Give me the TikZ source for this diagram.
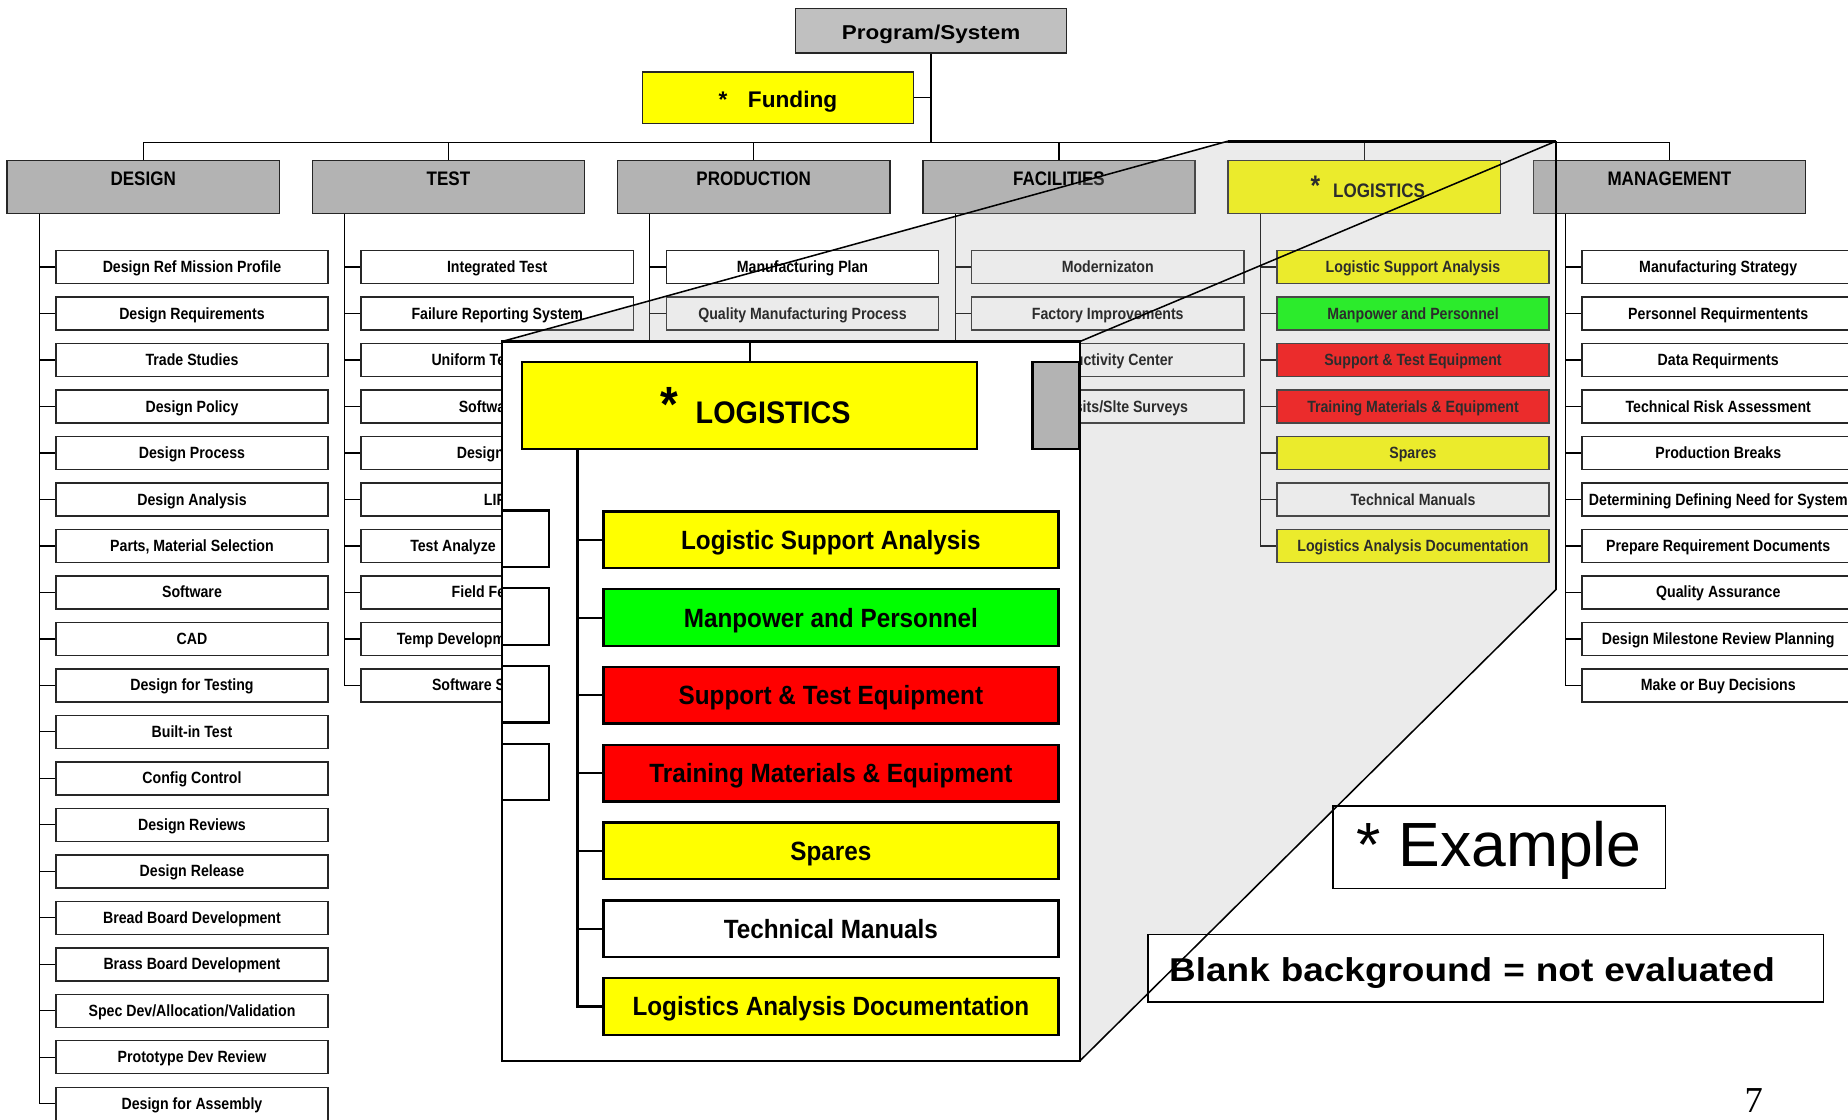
\documentclass[tikz,border=0pt]{standalone}
\usepackage{fontspec}
\setmainfont{Liberation Sans}
\newfontfamily\narrowsans{Liberation Sans}[FakeStretch=0.87]
\newfontfamily\midsans{Liberation Sans}[FakeStretch=0.92]
\newfontfamily\widesans{Liberation Sans}[FakeStretch=1.12]
\newfontfamily\pageserif{Liberation Serif}
\usepackage{tikz}
\usetikzlibrary{positioning}
\definecolor{hdgray}{HTML}{B3B3B3}
\definecolor{topgray}{HTML}{C0C0C0}
\definecolor{lsayellow}{HTML}{FFFF00}
\definecolor{lsagreen}{HTML}{00FF00}
\definecolor{lsared}{HTML}{FF0000}
\definecolor{veil}{HTML}{B0B0B0}
\tikzset{
  link/.style={draw=black,line width=1pt},
  zoomlink/.style={draw=black,line width=1.8pt},
  itembox/.style={draw=black!85,line width=1.2pt,fill=white,inner sep=0pt,
    minimum width=231pt,minimum height=28pt,text height=18.7pt,text depth=9.3pt,
    font=\narrowsans\bfseries\fontsize{13.8pt}{16pt}\selectfont},
  cutlabel/.style={inner sep=0pt,text height=18.7pt,text depth=9.3pt,
    font=\narrowsans\bfseries\fontsize{13.8pt}{16pt}\selectfont},
  headbox/.style={draw=black!85,line width=1.2pt,fill=hdgray,inner sep=0pt,
    minimum width=231pt,minimum height=45pt,text height=21.8pt,text depth=23.2pt,
    font=\narrowsans\bfseries\fontsize{16.6pt}{19pt}\selectfont},
  topbox/.style={draw=black!85,line width=1.2pt,fill=topgray,inner sep=0pt,
    minimum width=230pt,minimum height=38pt,text height=26.4pt,text depth=11.6pt,
    font=\widesans\bfseries\fontsize{17pt}{20pt}\selectfont},
  fundbox/.style={draw=black!85,line width=1.2pt,fill=lsayellow,inner sep=0pt,
    minimum width=230pt,minimum height=44pt,text height=30pt,text depth=14pt,
    font=\bfseries\fontsize{19.2pt}{22pt}\selectfont},
  zoomitem/.style={draw=black,line width=2pt,inner sep=0pt,
    minimum width=386pt,minimum height=48pt,text height=32pt,text depth=16pt,
    font=\midsans\bfseries\fontsize{22.4pt}{26pt}\selectfont},
  stub/.style={draw=black,line width=2pt,fill=white,inner sep=0pt,
    minimum width=40pt,minimum height=48pt},
  note/.style={draw=black,line width=1.3pt,fill=white,inner sep=0pt}
}
\begin{document}
\begin{tikzpicture}[x=1pt,y=-1pt]
  \useasboundingbox[fill=white] (0,0) rectangle (1568,950);
  % zoomed area and its callout frame (drawn later)
  \node[inner sep=0pt,minimum width=278pt,minimum height=380pt] (src) at (1181,310) {};
  \node[inner sep=0pt,minimum width=490pt,minimum height=610pt] (zoom) at (671,595) {};
  % top of the tree
  \node[topbox] (prog) at (790,26) {Program/System};
  \node[fundbox] (fund) at (660,83) {*\hspace{17.5pt}Funding};
  \coordinate (bus) at (790,121);
  \draw[link] (prog.south) -- (bus);
  \draw[link] (fund.east) -- (fund.east -| prog.south);
  \foreach \h/\t/\k in {design/DESIGN/0,test/TEST/1,prod/PRODUCTION/2,fac/FACILITIES/3,mgmt/MANAGEMENT/5} {
    \node[headbox] (\h) at ({121.5+259*\k},158.5) {\t};
    \draw[link] (bus) -| (\h.north);
  }
  \node[headbox,fill=lsayellow,text height=31.3pt,text depth=13.7pt] (logi) at (1157.5,158.5)
    {\hspace{6pt}\raisebox{1pt}{\fontsize{24pt}{24pt}\selectfont *}\hspace{11pt}LOGISTICS};
  \draw[link] (bus) -| (logi.north);
  % design
  \foreach \t [count=\i] in {Design Ref Mission Profile,Design Requirements,Trade Studies,
      Design Policy,Design Process,Design Analysis,{Parts, Material Selection},Software,CAD,
      Design for Testing,Built-in Test,Config Control,Design Reviews,Design Release,
      Bread Board Development,Brass Board Development,Spec Dev/Allocation/Validation,
      Prototype Dev Review,Design for Assembly} {
    \node[itembox] (des-\i) at ([xshift=157.5pt,yshift={-45pt-(\i-1)*39.44pt}]design.south west) {\t};
    \draw[link] ([xshift=28pt]design.south west) |- (des-\i.west);
  }
  % test
  \foreach \t [count=\i] in {Integrated Test,Failure Reporting System} {
    \node[itembox] (tst-\i) at ([xshift=157.5pt,yshift={-45pt-(\i-1)*39.44pt}]test.south west) {\t};
    \draw[link] ([xshift=28pt]test.south west) |- (tst-\i.west);
  }
  \foreach \t/\e [count=\i from 3] in {Uniform Te/123,Softwa/123,Design/122,LIF/123,
      Test Analyze/115,Field Fe/123,Temp Developm/123,Software S/123} {
    \node[itembox] (tst-\i) at ([xshift=157.5pt,yshift={-45pt-(\i-1)*39.44pt}]test.south west) {};
    \node[cutlabel,anchor=east] at ([xshift=\e pt]tst-\i.west) {\t};
    \draw[link] ([xshift=28pt]test.south west) |- (tst-\i.west);
  }
  % production
  \draw[link] ([xshift=28pt]prod.south west) -- ([xshift=28pt]prod.south west |- zoom.north);
  \node[itembox] (prd-2) at ([xshift=157.5pt,yshift=-84.44pt]prod.south west) {Quality Manufacturing Process};
  \draw[link] ([xshift=28pt]prod.south west) |- (prd-2.west);
  % facilities
  \foreach \t [count=\i] in {Modernizaton,Factory Improvements,{},{}} {
    \node[itembox] (fac-\i) at ([xshift=157.5pt,yshift={-45pt-(\i-1)*39.44pt}]fac.south west) {\t};
    \draw[link] ([xshift=28pt]fac.south west) |- (fac-\i.west);
  }
  \node[cutlabel,anchor=west] at ([xshift=88pt]fac-3.west) {uctivity Center};
  \node[cutlabel,anchor=west] at ([xshift=88pt]fac-4.west) {sits/Slte Surveys};
  % logistics
  \foreach \t/\c [count=\i] in {Logistic Support Analysis/lsayellow,Manpower and Personnel/lsagreen,
      Support \& Test Equipment/lsared,Training Materials \& Equipment/lsared,Spares/lsayellow,
      Technical Manuals/white,Logistics Analysis Documentation/lsayellow} {
    \node[itembox,fill=\c] (log-\i) at ([xshift=157.5pt,yshift={-45pt-(\i-1)*39.44pt}]logi.south west) {\t};
    \draw[link] ([xshift=28pt]logi.south west) |- (log-\i.west);
  }
  % management
  \foreach \t [count=\i] in {Manufacturing Strategy,Personnel Requirmentents,Data Requirments,
      Technical Risk Assessment,Production Breaks,Determining Defining Need for System,
      Prepare Requirement Documents,Quality Assurance,Design Milestone Review Planning,
      Make or Buy Decisions} {
    \node[itembox] (mgt-\i) at ([xshift=157.5pt,yshift={-45pt-(\i-1)*39.44pt}]mgmt.south west) {\t};
    \draw[link] ([xshift=28pt]mgmt.south west) |- (mgt-\i.west);
  }
  % grey veil of the zoom
  \fill[veil,fill opacity=0.25] (zoom.north west) -- (src.north west) -- (src.north east)
    -- (src.south east) -- (zoom.south east) -- (zoom.south west) -- cycle;
  \node[itembox] (prd-1) at ([xshift=157.5pt,yshift=-45pt]prod.south west) {Manufacturing Plan};
  \draw[link] ([xshift=28pt]prod.south west) |- (prd-1.west);
  % callout
  \draw[zoomlink,line width=2pt,fill=white] (zoom.north west) rectangle (zoom.south east);
  \node[zoomitem,fill=lsayellow,minimum height=74pt,text height=52pt,text depth=22pt,
    font=\midsans\bfseries\fontsize{26.5pt}{30pt}\selectfont] (biglog) at (636,344)
    {\hspace{10pt}\raisebox{1.5pt}{\fontsize{42pt}{42pt}\selectfont *}\hspace{15pt}LOGISTICS};
  \draw[zoomlink] (biglog.north) -- (biglog.north |- zoom.north);
  \node[stub,fill=hdgray,minimum height=74pt] (zmgt) at (896,344) {};
  \foreach \k in {0,...,3}
    \node[stub] (zfac-\k) at (446,{457+66*\k}) {};
  \foreach \t/\c [count=\i] in {Logistic Support Analysis/lsayellow,Manpower and Personnel/lsagreen,
      Support \& Test Equipment/lsared,Training Materials \& Equipment/lsared,Spares/lsayellow,
      Technical Manuals/white,Logistics Analysis Documentation/lsayellow} {
    \node[zoomitem,fill=\c] (zl-\i) at ([xshift=263pt,yshift={-76pt-(\i-1)*66pt}]biglog.south west) {\t};
    \draw[zoomlink] ([xshift=48pt]biglog.south west) |- (zl-\i.west);
  }
  % notes
  \node[note,minimum width=282pt,minimum height=70pt,text height=51pt,text depth=19pt,
    font=\fontsize{53pt}{60pt}\selectfont] (example) at (1272,719) {* Example};
  \node[note,minimum width=573pt,minimum height=57pt,text width=537pt,inner xsep=18pt,
    align=left,text height=40pt,text depth=17pt,
    font=\widesans\bfseries\fontsize{28pt}{32pt}\selectfont] (blank) at (1260.5,821.5)
    {Blank background = not evaluated};
  \node[inner sep=0pt,anchor=base,font=\pageserif\fontsize{31pt}{36pt}\selectfont] (pgno) at (1488,944) {7};
  % zoom lines
  \draw[line width=1.3pt] (src.north west) -- (zoom.north west);
  \draw[line width=1.3pt] (src.north east) -- (zoom.north east);
  \draw[line width=1.3pt] (src.south east) -- (zoom.south east);
  \draw[line width=2.5pt] (src.north west) -- (src.north east);
  \draw[line width=1.6pt] (src.north east) -- (src.south east);
\end{tikzpicture}
\end{document}
